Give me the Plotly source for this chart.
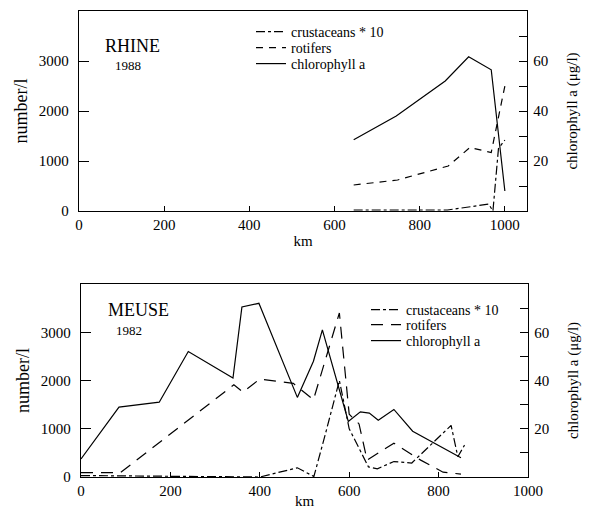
import plotly.graph_objects as go

# ---------------- data ----------------
# RHINE 1988
rhine_km_chl = [645, 745, 860, 915, 968, 1000]
rhine_chl = [28.5, 38, 52, 61.7, 56.5, 8]
rhine_km_rot = [645, 748, 867, 918, 968, 1000]
rhine_rot = [520, 620, 900, 1270, 1170, 2500]
rhine_km_cru = [645, 750, 865, 915, 962, 972, 985, 1000]
rhine_cru = [20, 25, 20, 80, 140, 0, 1250, 1420]

# MEUSE 1982
meuse_km_chl = [0, 85, 175, 240, 340, 360, 398, 484, 520, 540, 598, 625, 645, 665, 700, 742, 850]
meuse_chl = [7.5, 29, 31, 52, 41, 70.5, 72, 33, 48, 61, 23, 27, 26.5, 23.5, 28, 19, 8]
meuse_km_rot = [0, 88, 342, 362, 400, 475, 520, 578, 600, 622, 640, 700, 760, 810, 850]
meuse_rot = [90, 90, 1910, 1760, 2030, 1940, 1600, 3400, 1300, 1100, 350, 700, 350, 100, 60]
meuse_km_cru = [0, 90, 400, 484, 521, 545, 578, 600, 643, 663, 700, 740, 828, 843, 858]
meuse_cru = [30, 20, 0, 190, 10, 830, 2000, 1000, 210, 170, 320, 290, 1070, 420, 660]

x_ticks = [0, 200, 400, 600, 800, 1000]
left_ticks = [0, 1000, 2000, 3000]
right_ticks = [10, 20, 30, 40, 50, 60, 70]
right_ticktext = ["", "20", "", "40", "", "60", ""]

names = ["crustaceans * 10", "rotifers", "chlorophyll a"]

W, H = 590, 509
FONT = "Liberation Serif"


def px(x):
    return x / W


def py(y):
    return 1 - y / H


fig = go.Figure()

line_w = 1.2
# top panel
fig.add_trace(go.Scatter(x=rhine_km_cru, y=rhine_cru, mode="lines", name=names[0],
                         line=dict(color="black", width=line_w, dash="dashdot"),
                         xaxis="x", yaxis="y", legend="legend"))
fig.add_trace(go.Scatter(x=rhine_km_rot, y=rhine_rot, mode="lines", name=names[1],
                         line=dict(color="black", width=line_w, dash="7px,6px"),
                         xaxis="x", yaxis="y", legend="legend2"))
fig.add_trace(go.Scatter(x=rhine_km_chl, y=rhine_chl, mode="lines", name=names[2],
                         line=dict(color="black", width=line_w),
                         xaxis="x", yaxis="y2", legend="legend3"))
# bottom panel
fig.add_trace(go.Scatter(x=meuse_km_cru, y=meuse_cru, mode="lines", name=names[0],
                         line=dict(color="black", width=line_w, dash="dashdot"),
                         xaxis="x2", yaxis="y3", legend="legend4"))
fig.add_trace(go.Scatter(x=meuse_km_rot, y=meuse_rot, mode="lines", name=names[1],
                         line=dict(color="black", width=line_w, dash="12px,8px"),
                         xaxis="x2", yaxis="y3", legend="legend5"))
fig.add_trace(go.Scatter(x=meuse_km_chl, y=meuse_chl, mode="lines", name=names[2],
                         line=dict(color="black", width=line_w),
                         xaxis="x2", yaxis="y4", legend="legend6"))

tickfont = dict(family=FONT, size=15, color="black")
titlefont = dict(family=FONT, size=15, color="black")

common_x = dict(ticks="inside", ticklen=5, tickcolor="black", showline=True, linecolor="black",
                linewidth=1.3, mirror=True, showgrid=False, zeroline=False, tickvals=x_ticks,
                tickfont=tickfont, title=dict(text="km", font=titlefont, standoff=3),
                automargin=False)
common_y = dict(ticks="inside", ticklen=10, tickcolor="black", showline=True, linecolor="black",
                linewidth=1.3, showgrid=False, zeroline=False, tickvals=left_ticks,
                tickfont=tickfont,
                title=dict(text="number/l", font=dict(family=FONT, size=18, color="black"), standoff=6),
                range=[0, 4000], automargin=False, ticklabelstandoff=6)
common_y2 = dict(ticks="inside", ticklen=8, tickcolor="black", showline=True, linecolor="black",
                 linewidth=1.3, showgrid=False, zeroline=False, tickvals=right_ticks,
                 ticktext=right_ticktext, tickfont=tickfont, side="right",
                 title=dict(text="chlorophyll a (μg/l)", font=titlefont, standoff=19),
                 range=[0, 80], automargin=False, ticklabelstandoff=2)


def leg(x, y):
    return dict(x=px(x), y=py(y), xanchor="left", yanchor="top",
                bgcolor="rgba(0,0,0,0)", font=dict(family=FONT, size=14, color="black"),
                itemwidth=30, tracegroupgap=0)


fig.update_layout(
    width=W, height=H,
    margin=dict(l=0, r=0, t=0, b=0),
    paper_bgcolor="white", plot_bgcolor="white",
    font=dict(family=FONT, color="black"),
    xaxis=dict(common_x, domain=[px(79), px(527)], anchor="y", range=[0, 1052]),
    yaxis=dict(common_y, domain=[py(211), py(11)], anchor="x"),
    yaxis2=dict(common_y2, overlaying="y", anchor="x"),
    xaxis2=dict(common_x, domain=[px(81), px(528)], anchor="y3", range=[0, 1000]),
    yaxis3=dict(common_y, domain=[py(477), py(284)], anchor="x2"),
    yaxis4=dict(common_y2, overlaying="y3", anchor="x2"),
    legend=leg(251, 16),
    legend2=leg(251, 32),
    legend3=leg(251, 48),
    legend4=leg(366, 294),
    legend5=leg(366, 309),
    legend6=leg(366, 325),
    showlegend=True,
    annotations=[
        dict(text="RHINE", x=px(103), y=py(46), xref="paper", yref="paper", xanchor="left",
             yanchor="middle", showarrow=False, font=dict(family=FONT, size=18, color="black")),
        dict(text="1988", x=px(113), y=py(65), xref="paper", yref="paper", xanchor="left",
             yanchor="middle", showarrow=False, font=dict(family=FONT, size=13, color="black")),
        dict(text="MEUSE", x=px(106), y=py(310), xref="paper", yref="paper", xanchor="left",
             yanchor="middle", showarrow=False, font=dict(family=FONT, size=18, color="black")),
        dict(text="1982", x=px(114), y=py(330), xref="paper", yref="paper", xanchor="left",
             yanchor="middle", showarrow=False, font=dict(family=FONT, size=13, color="black")),
    ],
)

fig.write_html("out.html")
